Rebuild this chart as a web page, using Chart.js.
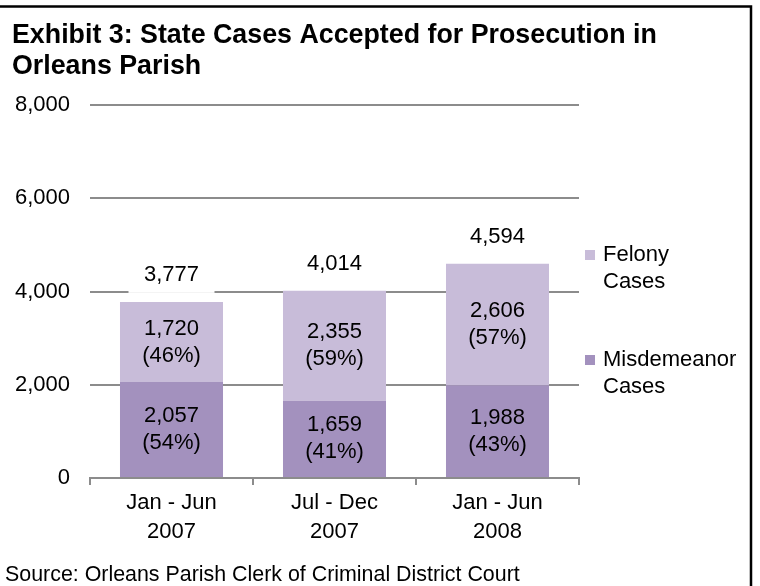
<!DOCTYPE html>
<html>
<head>
<meta charset="utf-8">
<script src="https://cdn.jsdelivr.net/npm/chart.js@4.4.1/dist/chart.umd.min.js"></script>
<style>
    html, body { margin: 0; padding: 0; background: #ffffff; }
    #wrap { position: relative; width: 760px; height: 586px; }
</style>
</head>
<body>
<div id="wrap"><canvas id="cases-chart" width="760" height="586"></canvas></div>
<script>
/* -------- DATA START -------- */
const periodLabels = [["Jan - Jun", "2007"], ["Jul - Dec", "2007"], ["Jan - Jun", "2008"]];
const misdemeanorCases = [2057, 1659, 1988];
const felonyCases = [1720, 2355, 2606];
const misdemeanorShares = [54, 41, 43];
const felonyShares = [46, 59, 57];
const seriesNames = [["Felony", "Cases"], ["Misdemeanor", "Cases"]];
const titleLines = ["Exhibit 3: State Cases Accepted for Prosecution in", "Orleans Parish"];
const sourceNote = "Source: Orleans Parish Clerk of Criminal District Court";
const yMax = 8000;
const yStep = 2000;
/* -------- DATA END -------- */

/* -------- GLOBAL VARIABLES START -------- */
const FONT = "'Liberation Sans', Arial, sans-serif";
const felonyColor = "#c8bcd9";
const misdemeanorColor = "#a391be";
const gridColor = "#8c8c8c";
/* -------- GLOBAL VARIABLES END -------- */

/* -------- FUNCTIONS START -------- */
function fmt(n) {
    return n.toLocaleString("en-US");
}

function drawLines(ctx, lines, x, y, gap) {
    // draw lines centred vertically around y
    const start = y - (lines.length - 1) * gap / 2;
    lines.forEach((line, i) => ctx.fillText(line, x, start + i * gap));
}
/* -------- FUNCTIONS END -------- */

/* -------- PLUGINS START -------- */
const labelsPlugin = {
    id: "labels",
    afterDatasetsDraw(chart) {
        const ctx = chart.ctx;
        const lowMeta = chart.getDatasetMeta(0);
        const highMeta = chart.getDatasetMeta(1);
        ctx.save();
        ctx.font = "22px " + FONT;
        ctx.textAlign = "center";
        ctx.textBaseline = "middle";
        ctx.fillStyle = "#000000";

        lowMeta.data.forEach((bar, i) => {
            drawLines(ctx, [fmt(misdemeanorCases[i]), "(" + misdemeanorShares[i] + "%)"], bar.x, (bar.y + bar.base) / 2, 27);
        });
        highMeta.data.forEach((bar, i) => {
            drawLines(ctx, [fmt(felonyCases[i]), "(" + felonyShares[i] + "%)"], bar.x, (bar.y + bar.base) / 2, 27);
            // total above the stack, on a white box that hides the gridline
            const total = misdemeanorCases[i] + felonyCases[i];
            const ty = bar.y - 27;
            ctx.fillStyle = "#ffffff";
            ctx.fillRect(bar.x - 43, ty - 15, 86, 33);
            ctx.fillStyle = "#000000";
            ctx.fillText(fmt(total), bar.x, ty);
        });
        ctx.restore();
    },
    afterDraw(chart) {
        const ctx = chart.ctx;
        const area = chart.chartArea;
        ctx.save();

        // frame
        ctx.strokeStyle = "#000000";
        ctx.lineWidth = 2.5;
        ctx.beginPath();
        ctx.moveTo(0, 6.5);
        ctx.lineTo(751, 6.5);
        ctx.lineTo(751, chart.height);
        ctx.stroke();

        // title
        ctx.fillStyle = "#000000";
        ctx.textAlign = "left";
        ctx.textBaseline = "middle";
        ctx.font = "bold 26.8px " + FONT;
        ctx.fillText(titleLines[0], 12, 36);
        ctx.fillText(titleLines[1], 12, 67);

        // legend
        ctx.font = "22px " + FONT;
        const legendX = area.right + 6;
        const legendRows = [area.top + 150, area.top + 255];
        const legendColors = [felonyColor, misdemeanorColor];
        legendRows.forEach((y, i) => {
            ctx.fillStyle = legendColors[i];
            ctx.fillRect(legendX, y - 5, 10, 10);
            ctx.fillStyle = "#000000";
            ctx.fillText(seriesNames[i][0], legendX + 18, y);
            ctx.fillText(seriesNames[i][1], legendX + 18, y + 27);
        });

        // source note
        ctx.font = "21.4px " + FONT;
        ctx.fillText(sourceNote, 5, 575);
        ctx.restore();
    }
};
/* -------- PLUGINS END -------- */

/* -------- PROGRAM START -------- */
document.addEventListener("DOMContentLoaded", () => {
    const ctx = document.getElementById("cases-chart").getContext("2d");
    new Chart(ctx, {
        type: "bar",
        data: {
            labels: periodLabels,
            datasets: [
                {
                    label: "Misdemeanor Cases",
                    data: misdemeanorCases,
                    backgroundColor: misdemeanorColor,
                    borderWidth: 0,
                },
                {
                    label: "Felony Cases",
                    data: felonyCases,
                    backgroundColor: felonyColor,
                    borderWidth: 0,
                },
            ],
        },
        options: {
            responsive: false,
            animation: false,
            layout: { padding: { left: 0, right: 181, top: 105, bottom: 36 } },
            datasets: { bar: { categoryPercentage: 1, barPercentage: 0.632 } },
            plugins: {
                legend: { display: false },
                title: { display: false },
                tooltip: { enabled: false },
            },
            scales: {
                x: {
                    stacked: true,
                    afterFit: (scale) => { scale.height = 72; },
                    grid: {
                        offset: true,
                        drawOnChartArea: false,
                        drawTicks: true,
                        tickLength: 7,
                        color: gridColor,
                        lineWidth: 2,
                    },
                    border: { display: true, color: gridColor, width: 2 },
                    ticks: {
                        color: "#000000",
                        padding: 4,
                        maxRotation: 0,
                        font: { family: FONT, size: 22, lineHeight: 1.3 },
                    },
                },
                y: {
                    stacked: true,
                    min: 0,
                    max: yMax,
                    afterFit: (scale) => { scale.width = 90; },
                    grid: { color: gridColor, lineWidth: 2, drawTicks: false },
                    border: { display: false },
                    ticks: {
                        stepSize: yStep,
                        padding: 20,
                        color: "#000000",
                        font: { family: FONT, size: 22 },
                        callback: (v) => fmt(v),
                    },
                },
            },
        },
        plugins: [labelsPlugin],
    });
});
/* -------- PROGRAM END -------- */
</script>
</body>
</html>
